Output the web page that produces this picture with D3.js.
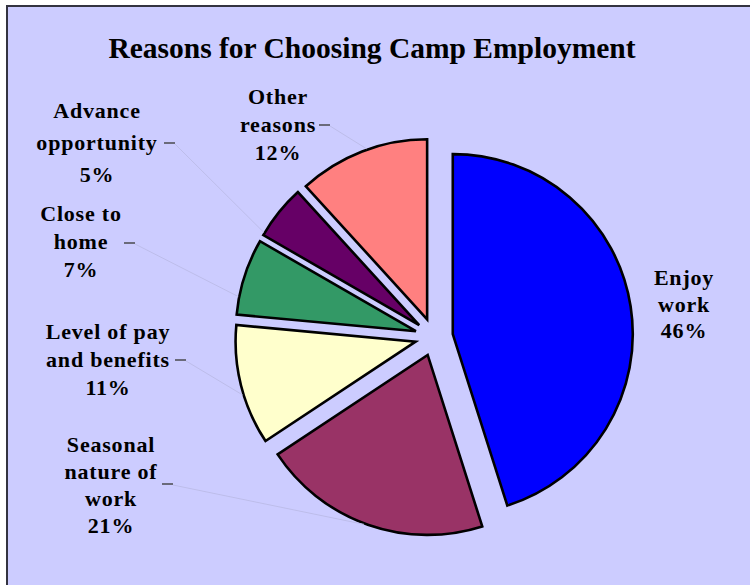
<!DOCTYPE html>
<html>
<head>
<meta charset="utf-8">
<script src="https://cdn.jsdelivr.net/npm/d3@7/dist/d3.min.js"></script>
<style>
  html, body { margin: 0; padding: 0; background: #ffffff; }
  svg { display: block; }
  text { font-family: "Liberation Serif", "Times New Roman", serif; font-weight: bold; fill: #000; }
</style>
</head>
<body>
<svg id="chart" width="750" height="585"></svg>
<script>
// ---- data ----
const categories = ["Enjoy work", "Seasonal nature of work", "Level of pay and benefits",
                    "Close to home", "Advance opportunity", "Other reasons"];
const values = [46, 21, 11, 7, 5, 12];
const colors = ["#0000FF", "#993366", "#FFFFCC", "#339966", "#660066", "#FF8080"];
const labelLines = [
  ["Enjoy", "work", "46%"],
  ["Seasonal", "nature of", "work", "21%"],
  ["Level of pay", "and benefits", "11%"],
  ["Close to", "home", "7%"],
  ["Advance", "opportunity", "5%"],
  ["Other", "reasons", "12%"]
];
const title = "Reasons for Choosing Camp Employment";

// ---- layout (positions only) ----
const W = 750, H = 585;
const cx = 434, cy = 337, R = 180, explode = 19;
const labelLayout = [
  { x: 684, y: 285, lh: 26.5, dash: null },
  { x: 111, y: 452, lh: 27,   dash: [162, 484], angOff: 1.2 },
  { x: 108, y: 339, lh: 28,   dash: [175, 360], angOff: -3 },
  { x: 81,  y: 221, lh: 28,   dash: [124, 243], angOff: -6.6 },
  { x: 97,  y: 118, lh: 32,   dash: [164, 143], angOff: -8 },
  { x: 278, y: 104, lh: 28,   dash: [319, 125], angOff: 1.6 }
];

const svg = d3.select("#chart");

// frame
svg.append("rect").attr("x", 7).attr("y", 6).attr("width", W + 20).attr("height", H + 20)
  .attr("fill", "#CCCCFF").attr("stroke", "#333340").attr("stroke-width", 2);

// title
svg.append("text").attr("x", 372).attr("y", 58).attr("text-anchor", "middle")
  .style("font-size", "29.5px").text(title);

const pie = d3.pie().sort(null).value(d => d).startAngle(0).endAngle(2 * Math.PI);
const arcs = pie(values);
const arc = d3.arc().innerRadius(0).outerRadius(R);

const g = svg.append("g").attr("transform", `translate(${cx},${cy})`);

function sliceCenter(a) {
  const mid = (a.startAngle + a.endAngle) / 2;
  return [Math.sin(mid) * explode, -Math.cos(mid) * explode];
}

// leader lines (faint) drawn beneath slices
arcs.forEach((a, i) => {
  const L = labelLayout[i];
  if (!L.dash) return;
  const [ox, oy] = sliceCenter(a);
  const mid = (a.startAngle + a.endAngle) / 2 + (L.angOff || 0) * Math.PI / 180;
  const ex = cx + ox + Math.sin(mid) * (R + 1);
  const ey = cy + oy - Math.cos(mid) * (R + 1);
  svg.append("line")
    .attr("x1", L.dash[0] + 11).attr("y1", L.dash[1] + 1)
    .attr("x2", ex).attr("y2", ey)
    .attr("stroke", "#BDBDEA").attr("stroke-width", 1);
  svg.append("line")
    .attr("x1", L.dash[0]).attr("y1", L.dash[1])
    .attr("x2", L.dash[0] + 11).attr("y2", L.dash[1])
    .attr("stroke", "#6a6a7a").attr("stroke-width", 2);
});

// slices
g.selectAll("path.slice").data(arcs).enter().append("path")
  .attr("class", "slice")
  .attr("transform", d => { const [ox, oy] = sliceCenter(d); return `translate(${ox},${oy})`; })
  .attr("d", arc)
  .attr("fill", (d, i) => colors[i])
  .attr("stroke", "#000").attr("stroke-width", 2.6).attr("stroke-linejoin", "miter");

// labels
arcs.forEach((a, i) => {
  const L = labelLayout[i];
  const t = svg.append("text").attr("text-anchor", "middle")
    .style("font-size", "22px").style("letter-spacing", "0.8px");
  labelLines[i].forEach((line, k) => {
    t.append("tspan").attr("x", L.x).attr("y", L.y + k * L.lh).text(line);
  });
});
</script>
</body>
</html>
